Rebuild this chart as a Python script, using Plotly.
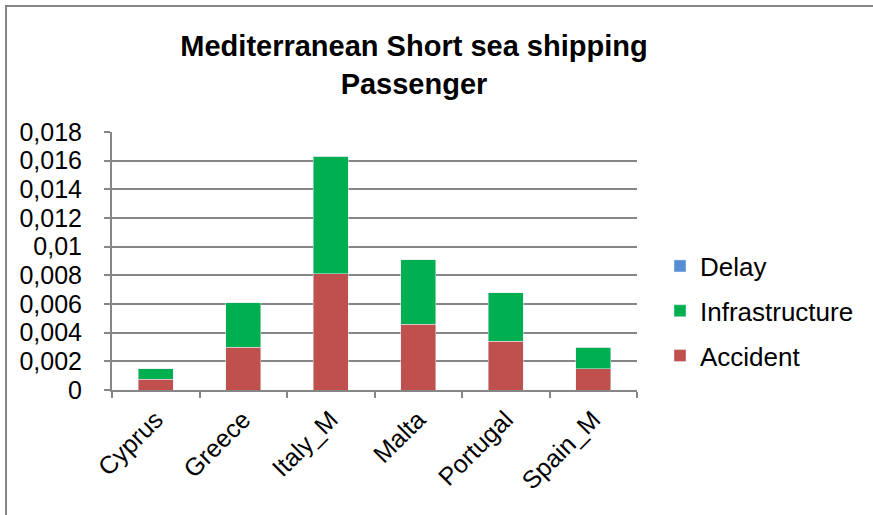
import plotly.graph_objects as go

categories = ["Cyprus", "Greece", "Italy_M", "Malta", "Portugal", "Spain_M"]
accident = [0.00075, 0.0030, 0.0081, 0.0046, 0.0034, 0.0015]
infrastructure = [0.00075, 0.0031, 0.0082, 0.0045, 0.0034, 0.0015]
delay = [0, 0, 0, 0, 0, 0]

GRID = "#868686"
FONT = "Liberation Sans, Arial, sans-serif"

fig = go.Figure()
fig.add_trace(go.Bar(x=categories, y=accident, name="Accident", marker_color="#C0504D",
                     legendgroup="a", legendrank=3))
fig.add_trace(go.Bar(x=categories, y=infrastructure, name="Infrastructure", marker_color="#00B050",
                     legendgroup="b", legendrank=2))
fig.add_trace(go.Bar(x=categories, y=delay, name="Delay", marker_color="#558ED5",
                     legendgroup="c", legendrank=1))

W, H = 873, 515
L, T = 112, 132
R = W - 637
B = H - 390
pw, ph = W - L - R, H - T - B

def px_x(p):
    return (p - L) / pw

def px_y(p):
    return (H - B - p) / ph

fig.update_layout(
    width=W, height=H,
    barmode="stack", bargap=0.6,
    separators=", ",
    paper_bgcolor="white", plot_bgcolor="white",
    margin=dict(l=L, r=R, t=T, b=B, autoexpand=False),
    font=dict(family=FONT, size=25, color="black"),
    title=dict(text="<b>Mediterranean Short sea shipping<br>Passenger</b>",
               font=dict(size=29, family=FONT, color="black"),
               x=px_x(414), xref="paper", xanchor="center",
               y=1 - 56 / H, yref="container", yanchor="middle"),
    legend=dict(x=px_x(660), y=px_y(311), xanchor="left", yanchor="middle",
                traceorder="grouped", tracegroupgap=8,
                font=dict(size=26, family=FONT, color="black"),
                bgcolor="rgba(0,0,0,0)"),
    xaxis=dict(showline=True, linecolor=GRID, linewidth=2, ticks="outside",
               tickson="boundaries", ticklen=6, tickcolor=GRID, tickwidth=2,
               tickangle=-45, tickfont=dict(size=25), showgrid=False,
               automargin=False, ticklabelstandoff=3),
    yaxis=dict(range=[0, 0.018], dtick=0.002, showline=True, linecolor=GRID,
               linewidth=2, ticks="outside", ticklen=6, tickcolor=GRID, tickwidth=2,
               showgrid=True, gridcolor=GRID, gridwidth=2, zeroline=False,
               tickfont=dict(size=25), automargin=False, ticklabelstandoff=17),
    showlegend=True,
)

fig.add_shape(type="path", xref="paper", yref="paper",
              path=f"M {px_x(6)} {px_y(530)} L {px_x(6)} {px_y(6)} L {px_x(890)} {px_y(6)}",
              line=dict(color=GRID, width=2))

fig.write_html("out.html", config={"displayModeBar": False},
               post_script="document.body.style.margin='0';")
